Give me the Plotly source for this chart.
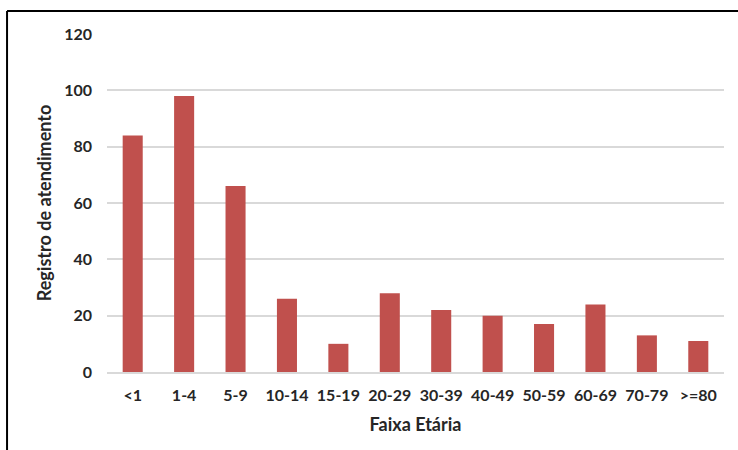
import plotly.graph_objects as go

faixas = ['<1', '1-4', '5-9', '10-14', '15-19', '20-29', '30-39', '40-49', '50-59', '60-69', '70-79', '>=80']
registros = [84, 98, 66, 26, 10, 28, 22, 20, 17, 24, 13, 11]
y_ticks = [0, 20, 40, 60, 80, 100, 120]

fig = go.Figure(go.Bar(x=faixas, y=registros, marker=dict(color='#C0504D', line=dict(width=0))))

fig.update_layout(
    width=738, height=450,
    margin=dict(l=107, r=14, t=34, b=78),
    plot_bgcolor='white', paper_bgcolor='white',
    bargap=0.61,
    showlegend=False,
    font=dict(family='Lato, Open Sans, sans-serif', color='#262626'),
    shapes=[
        dict(type='line', xref='paper', yref='paper', x0=-0.162, x1=-0.162, y0=1.068, y1=-0.3,
             line=dict(color='black', width=2)),
        dict(type='line', xref='paper', yref='paper', x0=-0.162, x1=1.03, y0=1.068, y1=1.068,
             line=dict(color='black', width=2)),
    ],
)
fig.update_xaxes(
    title=dict(text='Faixa Etária', font=dict(size=18, weight='bold'), standoff=15),
    tickfont=dict(size=16, weight='bold'),
    showline=True, linecolor='#d9d9d9', linewidth=2,
    ticks='', showgrid=False, automargin=False,
    ticklabelstandoff=8,
)
fig.update_yaxes(
    title=dict(text='Registro de atendimento', font=dict(size=18, weight='bold'), standoff=7),
    tickfont=dict(size=16, weight='bold'),
    tickvals=y_ticks, range=[0, 120],
    showgrid=True, gridcolor='#d9d9d9', gridwidth=1.5,
    zeroline=False, ticks='', ticklen=0, automargin=False,
    ticklabelstandoff=14,
)

# page body has a default 8px margin; drop it so the figure sits at the window corner
fig.write_html('out.html', config={'displayModeBar': False},
               post_script="document.body.style.margin='0';")
